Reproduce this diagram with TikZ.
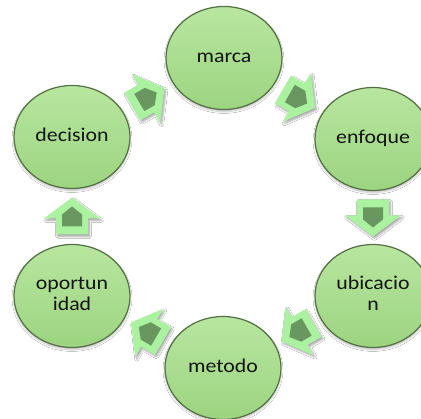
\documentclass[tikz,border=0pt]{standalone}
\usepackage{fontspec}
\setmainfont{Carlito}
\usepackage{graphicx}
\usetikzlibrary{shapes.geometric,shadows.blur,calc}
\definecolor{nodefillA}{RGB}{184,230,160}
\definecolor{nodefillB}{RGB}{156,212,128}
\definecolor{nodeline}{RGB}{82,112,66}
\definecolor{arrowfill}{RGB}{170,242,160}
\definecolor{arrowcore}{RGB}{106,150,96}
\definecolor{txt}{RGB}{20,20,20}
\newcommand\cyclbl[1]{\scalebox{1.12}[1]{\begin{tabular}{@{}c@{}}#1\end{tabular}}}
\tikzset{
  cycnode/.style={ellipse, draw=nodeline, line width=1.2pt,
    top color=nodefillA, bottom color=nodefillB,
    minimum width=116pt, minimum height=103pt, inner sep=0pt,
    text=txt, font=\fontsize{19.5}{21}\selectfont,
    blur shadow={shadow blur steps=6, shadow xshift=0pt, shadow yshift=-2pt, shadow opacity=25}},
  cycarrow/.pic={
    \fill[arrowfill, blur shadow={shadow blur steps=5, shadow xshift=1.5pt, shadow yshift=-2pt, shadow opacity=35}]
      (-18,-16) -- (-2,-16) -- (-2,-28) -- (19,0) -- (-2,28) -- (-2,16) -- (-18,16) -- cycle;
    \fill[arrowcore] (-10,-10) -- (2,-10) -- (10,0) -- (2,10) -- (-10,10) -- cycle;
  }
}
\begin{document}
\begin{tikzpicture}[x=1pt,y=-1pt]
  \useasboundingbox (0,0) rectangle (421,419);
  \fill[white] (0,0) rectangle (421,419);
  \clip (0,0) rectangle (421,419);
  \node[cycnode] (marca) at (224,58) {\cyclbl{marca}};
  \node[cycnode] (enfoque) at (373,139) {\cyclbl{enfoque}};
  \node[cycnode] (ubicacion) at (373,296) {\cyclbl{ubicacio\\n}};
  \node[cycnode] (metodo) at (223,368) {\cyclbl{metodo}};
  \node[cycnode] (oportunidad) at (72,296) {\cyclbl{oportun\\idad}};
  \node[cycnode] (decision) at (72,137) {\cyclbl{decision}};
  \pic[rotate=30] at ($(decision)!0.5!(marca)$) {cycarrow};
  \pic[rotate=-30] at ($(marca)!0.5!(enfoque)$) {cycarrow};
  \pic[rotate=-90] at ($(enfoque)!0.5!(ubicacion)$) {cycarrow};
  \pic[rotate=-150] at ($(ubicacion)!0.5!(metodo)$) {cycarrow};
  \pic[rotate=150] at ($(metodo)!0.5!(oportunidad)$) {cycarrow};
  \pic[rotate=90] at ($(oportunidad)!0.5!(decision)$) {cycarrow};
\end{tikzpicture}
\end{document}
